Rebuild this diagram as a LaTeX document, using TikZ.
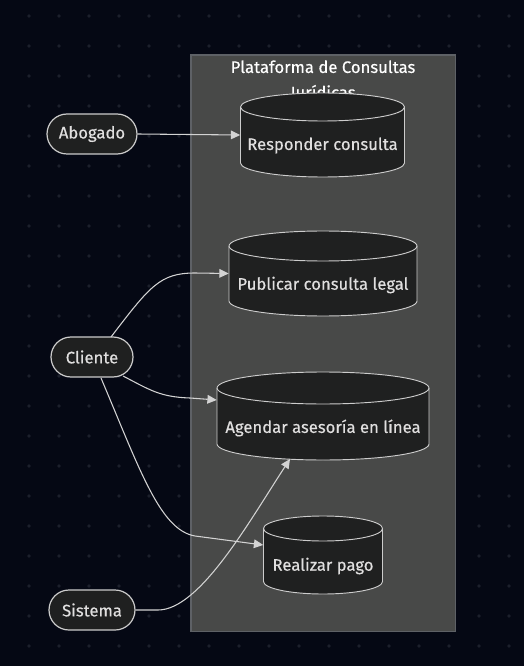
\documentclass[tikz,border=0pt]{standalone}
\usepackage{fontspec}
\setmainfont{Fira Sans}[FakeBold=0.35]
\usetikzlibrary{arrows.meta}
\definecolor{bgc}{HTML}{050814}
\definecolor{dotc}{HTML}{1C202C}
\definecolor{clfill}{HTML}{484948}
\definecolor{clline}{HTML}{5E6166}
\definecolor{nfill}{HTML}{1F2020}
\definecolor{nline}{HTML}{CCCCCC}
\definecolor{txtc}{HTML}{E0DFDF}
\definecolor{edgec}{HTML}{D3D3D3}
\tikzset{
  actor/.style={draw=nline, fill=nfill, line width=0.9pt, rounded corners=15pt,
    minimum height=30pt, inner sep=0pt, text=txtc, font=\fontsize{12.5}{14}\selectfont},
  cylfill/.style={draw=nline, fill=nfill, line width=0.7pt},
  cylline/.style={draw=nline, line width=0.7pt},
  cyltext/.style={text=txtc, font=\fontsize{12.5}{14}\selectfont, inner sep=0pt},
  cylbox/.style={draw=none, inner sep=0pt},
  link/.style={draw=edgec, line width=0.8pt, -{Triangle[length=7pt,width=6.5pt]}},
}
% name, cx, ytop, ybot, rx, ry, label, texty
\newcommand{\mycyl}[8]{%
  \path[cylfill] ({#2-#5},{#3+#6}) -- ({#2-#5},{#4-#6})
    arc[start angle=180,end angle=360,x radius=#5*0.75pt,y radius=#6*0.75pt]
    -- ({#2+#5},{#3+#6})
    arc[start angle=0,end angle=180,x radius=#5*0.75pt,y radius=#6*0.75pt] -- cycle;
  \draw[cylline] ({#2-#5},{#3+#6})
    arc[start angle=180,end angle=360,x radius=#5*0.75pt,y radius=#6*0.75pt];
  \node[cylbox, minimum width={2*#5*0.75pt}, minimum height={(#4-#3)*0.75pt}] (#1) at (#2,{(#3+#4)/2}) {};
  \node[cyltext] (#1-t) at (#2,#8) {#7};
}
\begin{document}
\begin{tikzpicture}[x=0.75pt,y=-0.75pt]
\fill[bgc] (0,0) rectangle (524,666);
\useasboundingbox (0,0) rectangle (524,666);
\foreach \i in {0,...,16}{\foreach \j in {0,...,21}{
  \fill[dotc] ({29+30*\i},{16+30*\j}) circle[radius=1.4pt];}}
% cluster
\draw[clline, fill=clfill, line width=0.8pt] (191,55) rectangle (455.5,631.5);
\node[text=white, font=\fontsize{12.5}{14}\selectfont, align=center, inner sep=0pt] (title) at (323,80.5)
  {Plataforma de Consultas\\[5pt]Jurídicas};
% cylinders
\mycyl{resp}{322.5}{93}{177}{82}{14}{Responder consulta}{145.5}
\mycyl{pub}{323}{231}{316}{94}{15}{Publicar consulta legal}{285}
\mycyl{agen}{323}{372}{460}{106}{16}{Agendar asesoría en línea}{428}
\mycyl{pago}{323}{516}{594}{59.5}{12.5}{Realizar pago}{566}
% actors
\node[actor, minimum width=67.5pt] (abog) at (92,134) {Abogado};
\node[actor, minimum width=61.5pt] (cli) at (92,357) {Cliente};
\node[actor, minimum width=64.5pt] (sis) at (92,610) {Sistema};
% edges
\draw[link] (abog.east) -- (resp.west);
\draw[link] (111,337) .. controls (150,286) and (160,273) .. (195,273) -- (pub.west);
\draw[link] (123,376) .. controls (150,390) and (160,397) .. (190,398) -- ([yshift=12pt]agen.west);
\draw[link] (101,378) .. controls (140,470) and (160,530) .. (195,536) -- ([yshift=7.5pt]pago.west);
\draw[link] (sis.east) -- (158,610) .. controls (200,610) and (250,520) .. (290,459);
\end{tikzpicture}
\end{document}
